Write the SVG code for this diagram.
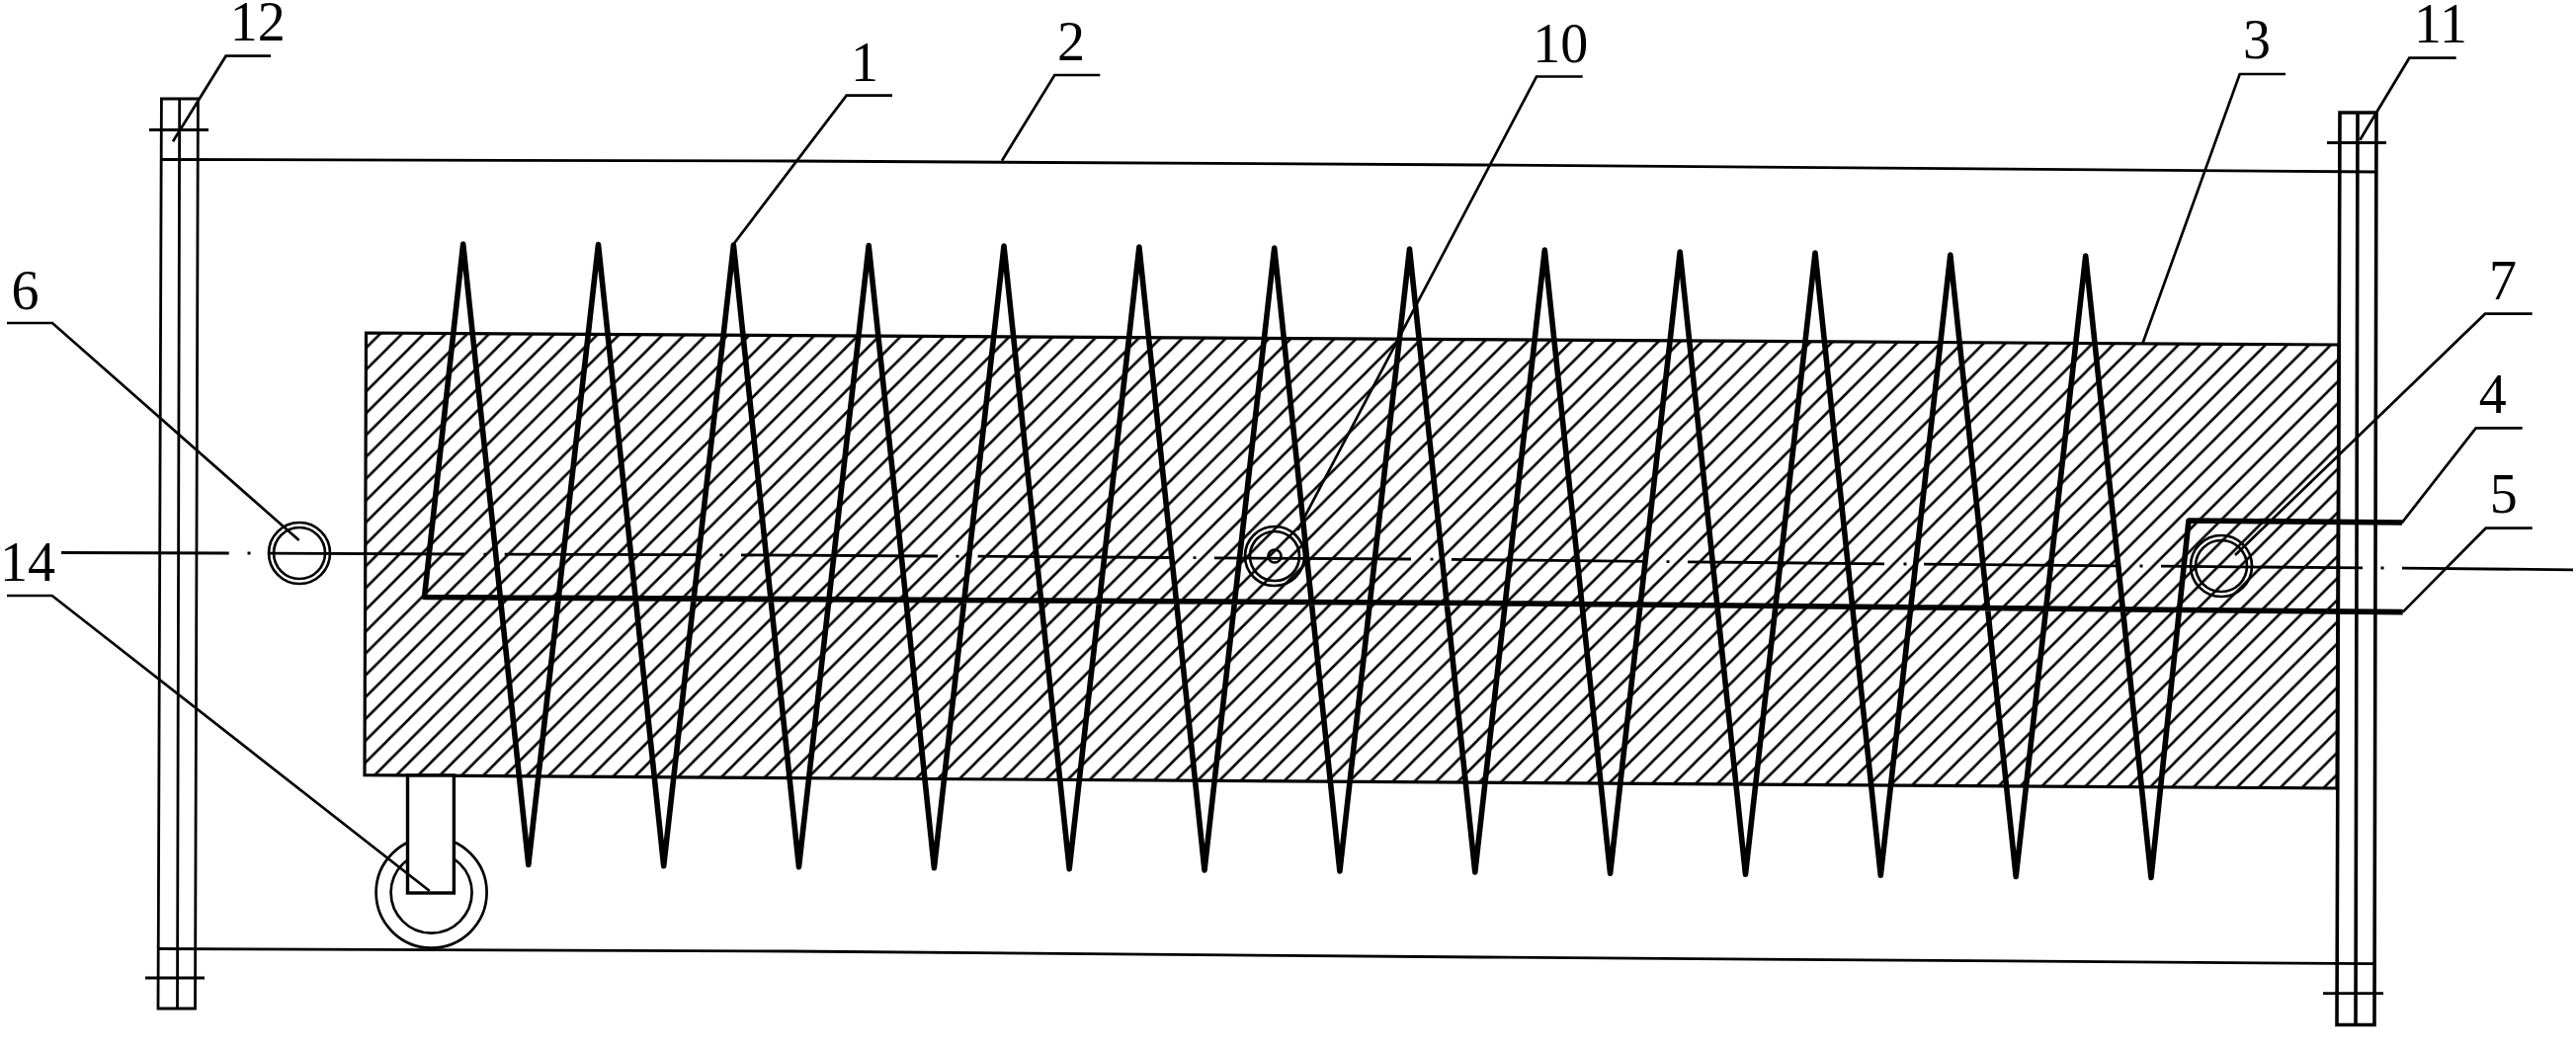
<svg xmlns="http://www.w3.org/2000/svg" width="2607" height="1065" viewBox="0 0 2607 1065">
<style>
.ln{fill:none;stroke:#000;stroke-width:2.8}
.post{fill:none;stroke:#000;stroke-width:3.6;stroke-linejoin:miter}
.thick{fill:none;stroke:#000;stroke-width:5.6;stroke-linejoin:round}
.lead{fill:none;stroke:#000;stroke-width:2.7;stroke-linejoin:miter}
.ring{fill:none;stroke:#000;stroke-width:2.7}
text{font-family:"Liberation Serif","Times New Roman",serif;font-size:56px;fill:#000;text-anchor:middle}
</style>
<defs>
<pattern id="hatch" patternUnits="userSpaceOnUse" width="22.06" height="22.06" patternTransform="translate(16.8 0)">
<path d="M-3,25.06 L25.06,-3 M-3,3 L3,-3 M19.06,25.06 L25.06,19.06" fill="none" stroke="#000" stroke-width="2.6"/>
</pattern>
</defs>
<rect width="2607" height="1065" fill="#fff"/>
<g id="frame">
<path class="ln" d="M163,161.5 L800,163 L1500,167 L2405,174"/>
<path class="ln" d="M160,960.5 L800,963 L1500,969 L2403,975.7"/>
</g>
<g id="block">
<polygon points="370.5,337 2367,349 2365,798 369,784.7" fill="url(#hatch)" stroke="#000" stroke-width="3.2"/>
</g>
<g id="post-left">
<path class="ln" d="M163.4,100 H200.4 L197.5,1021 H160 Z M181.7,100 L179.5,1021 M151,131.5 H211 M147,990 H207"/>
</g>
<g id="post-right">
<path class="post" d="M2368,114 H2405 L2403,1037.5 H2365 Z M2386,114 L2384,1037.5"/>
<path class="ln" d="M2355,144.5 H2415 M2351,1005.6 H2412"/>
</g>
<g id="centerline">
<path class="ln" d="M62,559.5 L231.7,560 M250.5,560 L253.5,560 M271,560.1 L470,561 M489.5,561.1 L492.5,561.1 M510.7,561.2 L709,561.7 M728.5,561.8 L731.5,561.8 M750,561.9 L949,563 M967.5,563.1 L970.5,563.1 M989.6,563.2 L1188,564.5 M1207.5,564.6 L1210.5,564.6 M1229,564.8 L1428,566 M1447.5,566.2 L1450.5,566.2 M1469,566.4 L1667,568.4 M1686.5,568.6 L1689.5,568.6 M1708,568.8 L1907,570.8 M1926.5,571 L1929.5,571 M1947,571.2 L2146,572.8 M2165.5,573 L2168.5,573 M2187,573.2 L2391,574.9 M2409.5,575 L2412.5,575 M2431,575.2 L2604,576.8"/>
</g>
<g id="pipe-6">
<circle class="ring" cx="303" cy="560" r="31"/>
<circle class="ring" cx="303" cy="560" r="26"/>
</g>
<g id="pipe-10">
<circle class="ring" cx="1290" cy="563" r="30"/>
<circle class="ring" cx="1290" cy="563" r="25"/>
<circle class="ring" cx="1290" cy="563" r="6.5"/>
</g>
<g id="pipe-7">
<circle class="ring" cx="2248" cy="573" r="31"/>
<circle class="ring" cx="2248" cy="573" r="26"/>
</g>
<g id="wheel-14">
<circle class="ring" cx="436.6" cy="903.6" r="56"/>
<circle class="ring" cx="436.6" cy="903.6" r="41"/>
<rect x="412.5" y="785" width="46.9" height="119" fill="#fff" stroke="#000" stroke-width="3.4"/>
</g>
<g id="coil">
<path class="thick" d="M2431.7,619.6 L1500,610.5 L429.5,604.5 L468.7,247 L534.8,875.5 L605.5,247.5 L671.7,876.6 L742.4,248 L808.5,877.7 L879.2,248.5 L945.4,878.7 L1016,249 L1082.2,879.8 L1152.9,250 L1219,880.9 L1289.7,251 L1355.9,882 L1426.5,252 L1492.8,883 L1563.3,253 L1629.6,884.1 L1700.2,255 L1766.5,885.2 L1837,256 L1903.3,886.3 L1973.8,258 L2040.2,887.4 L2110.7,259 L2177,888.5 L2215,527 L2431,529"/>
</g>
<g id="connectors">
<path class="lead" d="M7,327 H53 L302.7,547"/>
<path class="lead" d="M7,603 H52.7 L434.8,902"/>
<path class="lead" d="M274,56.7 H228.6 L175,143.3"/>
<path class="lead" d="M903,96.7 H856.7 L741.7,248"/>
<path class="lead" d="M1113.3,76 H1067.3 L1014,162.7"/>
<path class="lead" d="M1601.7,77.5 H1555 L1313.3,536.7"/>
<path class="lead" d="M2313,75 H2266.7 L2168.3,348"/>
<path class="lead" d="M2485.7,58.7 H2438.3 L2388.3,141.7"/>
<path class="lead" d="M2562.7,317.7 H2515 L2262,562"/>
<path class="lead" d="M2552.7,433.3 H2505.7 L2430.7,529.3"/>
<path class="lead" d="M2562.7,534.7 H2515.7 L2431.7,619.6"/>
</g>
<g id="labels">
<text x="260.7" y="41">12</text>
<text x="875" y="82">1</text>
<text x="1084" y="61">2</text>
<text x="1579.3" y="63">10</text>
<text x="2284" y="59.3">3</text>
<text x="2470" y="43.3">11</text>
<text x="2533" y="303">7</text>
<text x="2522.7" y="418">4</text>
<text x="2533.7" y="519.3">5</text>
<text x="25.5" y="313">6</text>
<text x="28" y="588">14</text>
</g>
</svg>
